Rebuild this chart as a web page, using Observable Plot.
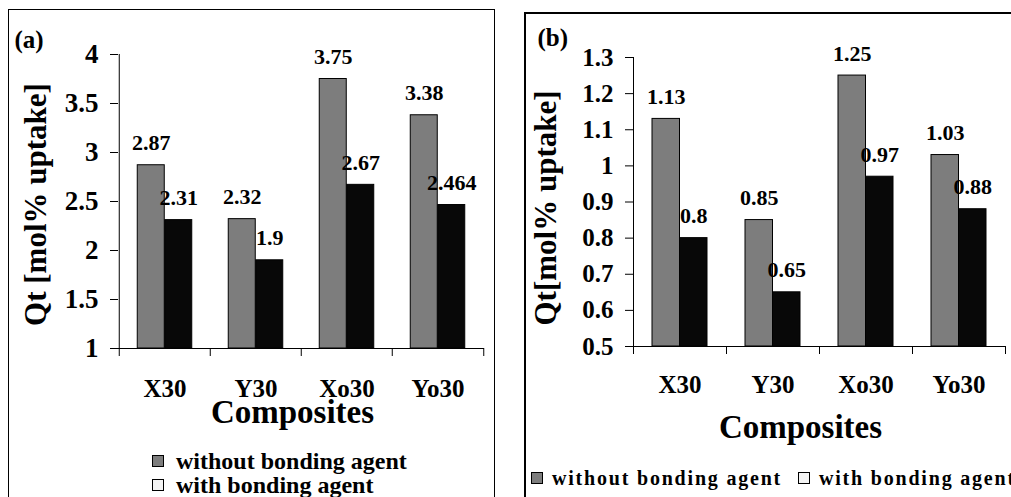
<!DOCTYPE html>
<html><head><meta charset="utf-8">
<script src="https://cdn.jsdelivr.net/npm/d3@7"></script>
<script src="https://cdn.jsdelivr.net/npm/@observablehq/plot@0.6"></script>
<style>
body{margin:0;background:#fff;}
#root{position:relative;width:1011px;height:497px;overflow:hidden;font-family:"Liberation Serif","Times New Roman",serif;font-weight:bold;color:#000;}
#root svg, #root svg text{font-family:"Liberation Serif","Times New Roman",serif !important;font-weight:bold;}
.frame{position:absolute;border:1.5px solid #000;box-sizing:border-box;}
.panel{position:absolute;top:0;}
.leg{position:absolute;display:flex;align-items:center;white-space:nowrap;line-height:1;}
.sw{display:inline-block;width:10px;height:10px;border:1px solid #000;flex:none;}
</style></head><body><div id="root"></div>
<script>
// ---- data ----
const categories = ["X30", "Y30", "Xo30", "Yo30"];
const seriesNames = ["without bonding agent", "with bonding agent"];
const uptakeA_without = [2.87, 2.32, 3.75, 3.38];
const uptakeA_with = [2.31, 1.9, 2.67, 2.464];
const uptakeB_without = [1.13, 0.85, 1.25, 1.03];
const uptakeB_with = [0.8, 0.65, 0.97, 0.88];
const ticksA = [1, 1.5, 2, 2.5, 3, 3.5, 4];
const ticksB = [0.5, 0.6, 0.7, 0.8, 0.9, 1, 1.1, 1.2, 1.3];
const xTitle = "Composites";
const yTitleA = "Qt [mol% uptake]";
const yTitleB = "Qt[mol% uptake]";
const tagA = "(a)";
const tagB = "(b)";

const GRAY = "#7d7d7d", BLACK = "#080808";
const FONT = "Liberation Serif";
const root = document.getElementById("root");

function makePanel(o) {
  const B = (o.width - o.marginLeft - o.marginRight) / categories.length;
  const bw = 27.5;
  const off = (B - 2 * bw) / 2;
  const ymin = o.ticks[0];
  const rowsWithout = categories.map((c, i) => ({category: c, value: o.without[i]}));
  const rowsWith = categories.map((c, i) => ({category: c, value: o.with[i]}));
  const last = categories[categories.length - 1];
  const svg = Plot.plot({
    width: o.width, height: o.height,
    marginLeft: o.marginLeft, marginRight: o.marginRight,
    marginTop: o.marginTop, marginBottom: o.marginBottom,
    style: {background: "transparent", overflow: "visible"},
    x: {type: "band", domain: categories, padding: 0, axis: null},
    y: {domain: [ymin, o.ticks[o.ticks.length - 1]], axis: null},
    marks: [
      Plot.barY(rowsWithout, {x: "category", y1: () => ymin, y2: "value", fill: GRAY, stroke: "#000", strokeWidth: 1, insetLeft: off, insetRight: B - off - bw}),
      Plot.barY(rowsWith, {x: "category", y1: () => ymin, y2: "value", fill: BLACK, stroke: "#000", strokeWidth: 1, insetLeft: off + bw, insetRight: off}),
      Plot.ruleY([ymin], {stroke: "#000", strokeWidth: 1}),
      Plot.ruleX([categories[0]], {dx: -B / 2, stroke: "#000", strokeWidth: 1}),
      Plot.axisY(o.ticks, {tickSize: 8, tickPadding: 12, fontSize: o.tickFont, fontFamily: FONT, fontWeight: "bold", tickFormat: d => String(d), label: null}),
      Plot.axisX({tickSize: 8, tickFormat: () => "", dx: -B / 2, label: null}),
      Plot.axisX([last], {tickSize: 8, tickFormat: () => "", dx: B / 2, label: null}),
      Plot.axisX({tickSize: 0, tickPadding: o.catPad, fontSize: 25, fontFamily: FONT, fontWeight: "bold", label: null}),
      Plot.text(rowsWithout, {x: "category", y: "value", text: d => String(d.value), dx: -bw / 2, dy: -22, lineAnchor: "middle", fontSize: 22, fontFamily: FONT, fontWeight: "bold"}),
      Plot.text(rowsWith, {x: "category", y: "value", text: d => String(d.value), dx: bw / 2, dy: -22, lineAnchor: "middle", fontSize: 22, fontFamily: FONT, fontWeight: "bold"}),
      Plot.text([o.yTitle], {text: d => d, frameAnchor: "left", textAnchor: "middle", rotate: -90, dx: o.yTitleDx, dy: o.yTitleDy, lineAnchor: "middle", fontSize: 31, fontFamily: FONT, fontWeight: "bold"}),
      Plot.text([xTitle], {text: d => d, frameAnchor: "bottom", textAnchor: "middle", dx: o.xTitleDx, dy: o.xTitleDy, lineAnchor: "middle", fontSize: 33, fontFamily: FONT, fontWeight: "bold"}),
      Plot.text([o.tag], {text: d => d, frameAnchor: "top-left", textAnchor: "start", dx: o.tagDx, dy: o.tagDy, lineAnchor: "middle", fontSize: 25, fontFamily: FONT, fontWeight: "bold"})
    ]
  });
  svg.style.fontFamily = '"Liberation Serif", serif';
  svg.style.fontWeight = "bold";
  return svg;
}

function addDiv(cls, css) {
  const d = document.createElement("div");
  d.className = cls;
  Object.assign(d.style, css);
  root.appendChild(d);
  return d;
}

// frames
addDiv("frame", {left: "8px", top: "9px", width: "487px", height: "600px"});
addDiv("frame", {left: "524px", top: "12px", width: "600px", height: "600px", borderWidth: "2px"});

// panel a
const pa = makePanel({
  width: 500, height: 497, marginLeft: 118, marginRight: 16, marginTop: 54, marginBottom: 149,
  ticks: ticksA, without: uptakeA_without, with: uptakeA_with, tickFont: 27, catPad: 31,
  yTitle: yTitleA, yTitleDx: -82, yTitleDy: 3, xTitleDx: -9, xTitleDy: 64, tag: tagA, tagDx: -104, tagDy: -15
});
const wa = addDiv("panel", {left: "0px"}); wa.appendChild(pa);

// panel b
const pb = makePanel({
  width: 511, height: 497, marginLeft: 133, marginRight: 6, marginTop: 57, marginBottom: 151,
  ticks: ticksB, without: uptakeB_without, with: uptakeB_with, tickFont: 25, catPad: 29,
  yTitle: yTitleB, yTitleDx: -87, yTitleDy: 6, xTitleDx: -19, xTitleDy: 81, tag: tagB, tagDx: -96, tagDy: -20
});
const wb = addDiv("panel", {left: "500px"}); wb.appendChild(pb);

// legends
const fills = [GRAY, "#f4f4f4"];
function legendItem(left, top, name, fill, fontSize, spacing) {
  const d = addDiv("leg", {left: left + "px", top: top + "px", fontSize: fontSize + "px", letterSpacing: spacing + "px"});
  const s = document.createElement("span"); s.className = "sw"; s.style.background = fill; s.style.marginRight = (fontSize > 21 ? 12 : 9) + "px";
  const t = document.createElement("span"); t.textContent = name;
  d.appendChild(s); d.appendChild(t);
}
legendItem(152, 449, seriesNames[0], fills[0], 24, 0);
legendItem(152, 473, seriesNames[1], fills[1], 24, 0);
legendItem(531, 468, seriesNames[0], fills[0], 20, 1.8);
legendItem(798, 468, seriesNames[1], fills[1], 20, 1.8);
</script></body></html>
